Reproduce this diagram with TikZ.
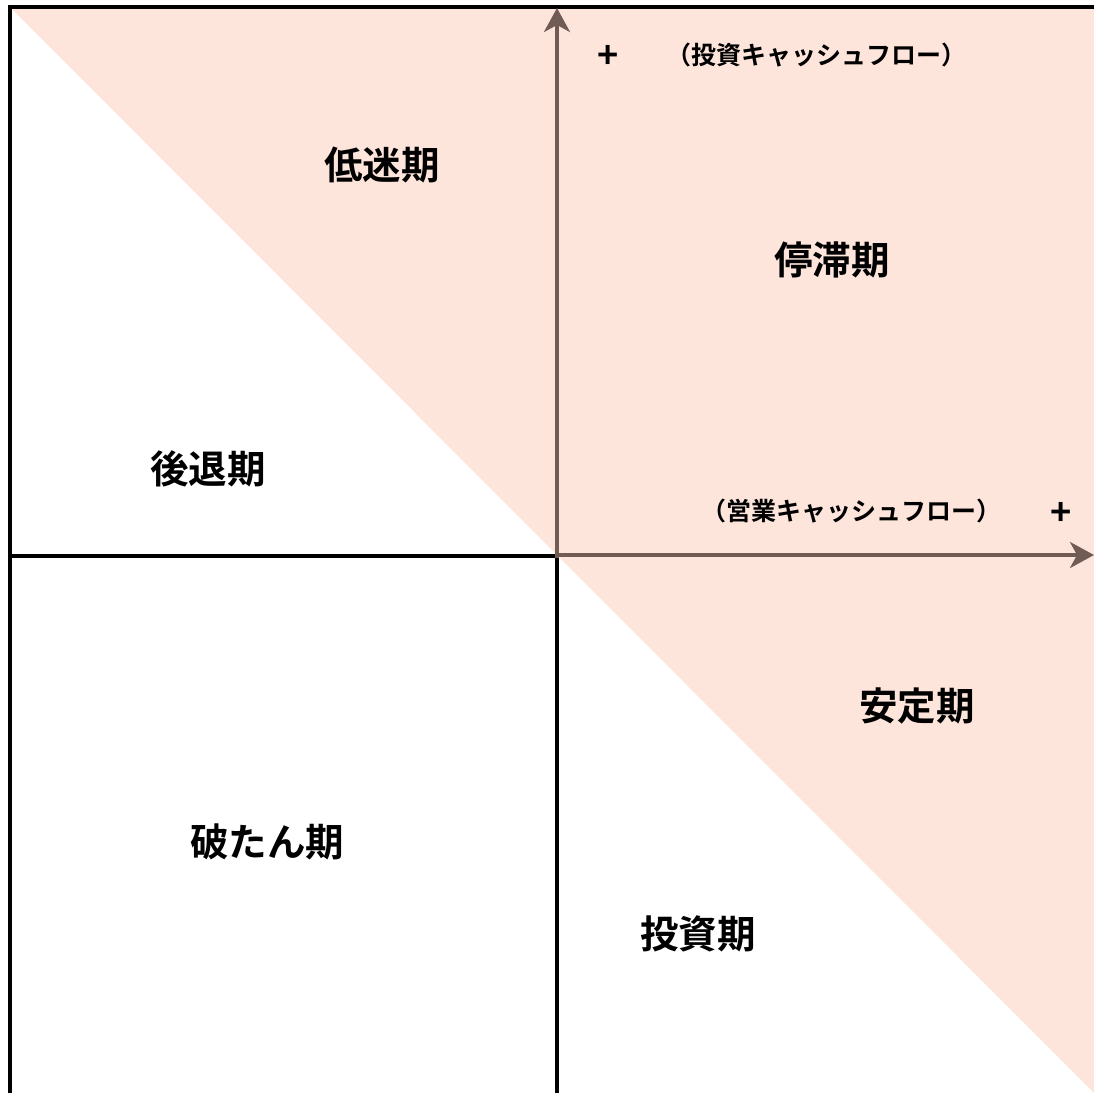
\documentclass[tikz,border=0pt]{standalone}
\usepackage{fontspec}
\newfontfamily\jpfont{Noto Sans CJK JP Bold}
\usetikzlibrary{arrows.meta}
\definecolor{quadpink}{RGB}{253,229,220}
\definecolor{axisbrown}{RGB}{112,92,84}
\tikzset{every picture/.style={line width=0.75pt}}

\begin{document}
\begin{tikzpicture}[x=1pt,y=1pt,yscale=-1,xscale=1,
  phase/.style={inner sep=0pt,font=\jpfont\fontsize{38.5}{42}\selectfont},
  cflabel/.style={inner sep=0pt,font=\jpfont\fontsize{25}{28}\selectfont},
  plussign/.style={inner sep=0pt,font=\jpfont\fontsize{36}{40}\selectfont},
  frameline/.style={draw=black,line width=4.5pt},
  axisline/.style={draw=axisbrown,line width=3.5pt,-{Stealth[length=24pt,width=26pt,inset=7pt]}}]
\useasboundingbox (0,0) rectangle (1094,1093);
%Shape: pink triangle
\fill [quadpink] (10,7) -- (1094,7) -- (1094,1093) -- cycle;
%Frame
\draw [frameline] (10,1093) -- (10,7) -- (1094,7);
\coordinate (origin) at (557,556);
\coordinate (yend) at (557,8);
\coordinate (xend) at (1094,555);
\draw [frameline] (10,556) -- (origin) -- (557,1093);
%Axes
\draw [axisline] (557,558) -- (yend);
\draw [axisline] (555,555) -- (xend);

\node [phase] (teimei) at (382,165) {低迷期};
\node [phase] (teitai) at (832,260) {停滞期};
\node [phase] (koutai) at (208,469) {後退期};
\node [phase] (antei) at (917,706) {安定期};
\node [phase] (hatan) at (267,842) {破たん期};
\node [phase] (toushi) at (698,934) {投資期};

\node [plussign] (plusy) at (608,57) {+};
\node [cflabel] (invcf) at (816,55) {（投資キャッシュフロー）};
\node [cflabel] (opcf) at (851,511) {（営業キャッシュフロー）};
\node [plussign] (plusx) at (1061,514) {+};
\end{tikzpicture}
\end{document}
